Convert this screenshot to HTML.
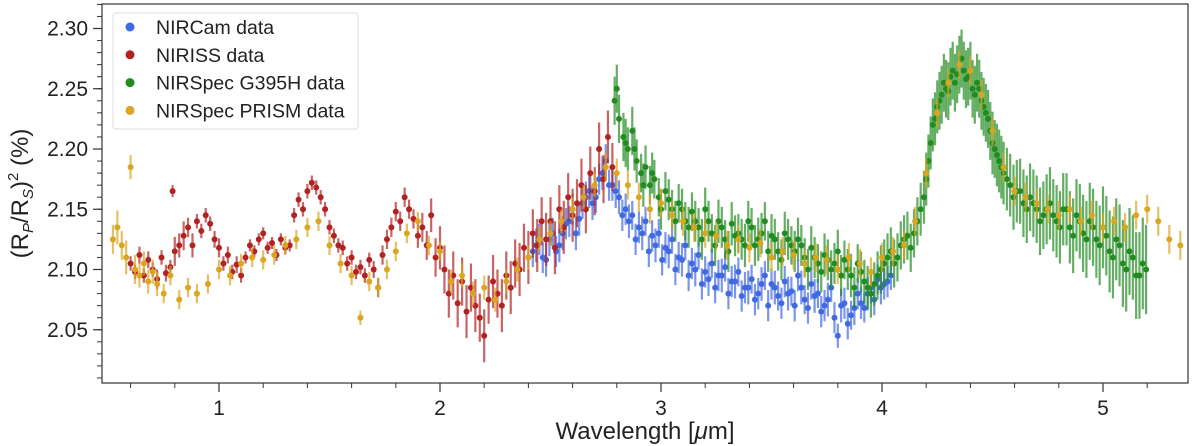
<!DOCTYPE html>
<html><head><meta charset="utf-8"><style>
body{margin:0;background:#fff}
svg{display:block;font-family:"Liberation Sans",sans-serif}
</style></head><body>
<svg id="c" width="1200" height="446"></svg>
<script>
const nircamWl=[2.42,2.45,2.48,2.51,2.54,2.57,2.60,2.63,2.66,2.69,2.72,2.75,2.78,2.81,2.84,2.87,2.90,2.93,2.96,2.99,3.02,3.05,3.08,3.11,3.14,3.17,3.20,3.23,3.26,3.29,3.32,3.35,3.38,3.41,3.44,3.47,3.50,3.53,3.56,3.59,3.62,3.65,3.68,3.71,3.74,3.77,3.80,3.83,3.86,3.89,3.92,3.95,3.98,4.01,4.04,
2.435,2.465,2.495,2.525,2.555,2.585,2.615,2.645,2.675,2.705,2.735,2.765,2.795,2.825,2.855,2.885,2.915,2.945,2.975,3.005,3.035,3.065,3.095,3.125,3.155,3.185,3.215,3.245,3.275,3.305,3.335,3.365,3.395,3.425,3.455,3.485,3.515,3.545,3.575,3.605,3.635,3.665,3.695,3.725,3.755,3.785,3.815,3.845,3.875,3.905,3.935,3.965,3.995,4.025];
const nircamVal=[2.115,2.125,2.108,2.130,2.120,2.138,2.150,2.142,2.160,2.155,2.175,2.190,2.170,2.160,2.150,2.145,2.135,2.140,2.128,2.130,2.118,2.125,2.110,2.120,2.105,2.112,2.098,2.105,2.095,2.102,2.090,2.098,2.085,2.092,2.080,2.095,2.088,2.078,2.090,2.082,2.095,2.075,2.088,2.080,2.070,2.085,2.045,2.072,2.062,2.080,2.068,2.085,2.092,2.088,2.095,
2.120,2.110,2.125,2.115,2.130,2.140,2.130,2.155,2.165,2.160,2.180,2.170,2.165,2.145,2.140,2.125,2.130,2.115,2.120,2.108,2.115,2.100,2.108,2.095,2.100,2.088,2.092,2.085,2.095,2.080,2.090,2.078,2.085,2.075,2.088,2.070,2.085,2.072,2.080,2.070,2.085,2.068,2.078,2.065,2.075,2.060,2.070,2.055,2.068,2.072,2.080,2.075,2.085,2.090];
const nircamErr=[0.013,0.013,0.014,0.013,0.014,0.013,0.013,0.014,0.013,0.014,0.013,0.014,0.013,0.014,0.013,0.012,0.013,0.012,0.013,0.012,0.013,0.012,0.013,0.012,0.013,0.012,0.013,0.012,0.013,0.012,0.013,0.012,0.013,0.012,0.013,0.012,0.013,0.012,0.013,0.012,0.013,0.012,0.013,0.012,0.013,0.012,0.01,0.013,0.012,0.013,0.012,0.013,0.012,0.013,0.012,
0.014,0.013,0.014,0.013,0.014,0.013,0.014,0.013,0.014,0.013,0.014,0.013,0.014,0.013,0.014,0.013,0.014,0.013,0.014,0.013,0.014,0.013,0.014,0.013,0.014,0.013,0.014,0.013,0.014,0.013,0.014,0.013,0.014,0.013,0.014,0.013,0.014,0.013,0.014,0.013,0.014,0.013,0.014,0.013,0.014,0.013,0.014,0.013,0.014,0.013,0.014,0.013,0.014,0.013];

const nirissWl=[0.60,0.62,0.64,0.66,0.68,0.70,0.72,0.74,0.76,0.78,0.79,0.80,0.82,0.84,0.86,0.88,0.90,0.92,0.94,0.96,0.98,1.00,1.02,1.04,1.06,1.08,1.10,1.12,1.14,1.16,1.18,1.20,1.22,1.24,1.26,1.28,1.30,1.32,1.34,1.36,1.38,1.40,1.42,1.44,1.46,1.48,1.50,1.52,1.54,1.56,1.58,1.60,1.62,1.64,1.66,1.68,1.70,1.72,1.74,1.76,1.78,1.80,1.82,1.84,1.86,1.88,1.90,1.92,1.94,1.96,1.98,2.00,2.02,2.04,2.06,2.08,2.10,2.12,2.14,2.16,2.18,2.20,2.22,2.24,2.26,2.28,2.30,2.32,2.34,2.36,2.38,2.40,2.42,2.44,2.46,2.48,2.50,2.52,2.54,2.56,2.58,2.60,2.62,2.64,2.66,2.68,2.70,2.72,2.74,2.76,2.78];
const nirissVal=[2.105,2.098,2.112,2.095,2.108,2.100,2.092,2.110,2.097,2.102,2.165,2.115,2.120,2.128,2.135,2.120,2.140,2.132,2.145,2.138,2.125,2.118,2.105,2.112,2.098,2.104,2.095,2.110,2.120,2.115,2.125,2.130,2.118,2.122,2.112,2.125,2.118,2.120,2.145,2.158,2.150,2.165,2.172,2.168,2.160,2.150,2.135,2.128,2.120,2.118,2.105,2.110,2.098,2.102,2.095,2.108,2.100,2.085,2.112,2.125,2.135,2.148,2.140,2.160,2.150,2.142,2.128,2.135,2.120,2.145,2.110,2.118,2.100,2.080,2.095,2.072,2.090,2.065,2.085,2.070,2.060,2.045,2.075,2.090,2.080,2.070,2.095,2.085,2.105,2.100,2.118,2.110,2.130,2.120,2.140,2.125,2.140,2.118,2.150,2.135,2.160,2.145,2.155,2.170,2.150,2.180,2.165,2.200,2.175,2.210,2.185];
const nirissErr=[0.006,0.006,0.007,0.006,0.007,0.006,0.008,0.006,0.007,0.006,0.005,0.012,0.01,0.012,0.008,0.01,0.006,0.006,0.006,0.006,0.007,0.008,0.006,0.007,0.006,0.007,0.006,0.005,0.005,0.005,0.005,0.005,0.005,0.005,0.005,0.005,0.005,0.005,0.006,0.006,0.006,0.006,0.006,0.006,0.006,0.006,0.006,0.006,0.006,0.006,0.006,0.006,0.006,0.006,0.006,0.006,0.007,0.008,0.008,0.008,0.008,0.008,0.008,0.008,0.008,0.008,0.01,0.012,0.012,0.014,0.016,0.018,0.02,0.02,0.02,0.02,0.02,0.022,0.02,0.022,0.02,0.022,0.02,0.022,0.02,0.022,0.02,0.022,0.02,0.022,0.02,0.022,0.02,0.022,0.02,0.022,0.02,0.022,0.02,0.022,0.02,0.022,0.02,0.022,0.02,0.022,0.02,0.022,0.02,0.022,0.02];

const g395Wl=[2.79,2.81,2.83,2.85,2.87,2.89,2.91,2.93,2.95,2.97,2.99,3.02,3.05,3.08,3.11,3.14,3.17,3.20,3.23,3.26,3.29,3.32,3.35,3.38,3.41,3.44,3.47,3.50,3.53,3.56,3.59,3.62,3.65,3.68,3.71,3.74,3.77,3.80,3.83,3.86,3.89,3.92,3.95,3.98,4.01,4.04,4.07,4.10,4.13,4.16,4.19,4.21,4.23,4.25,4.27,4.29,4.31,4.33,4.35,4.37,4.39,4.41,4.43,4.45,4.47,4.49,4.51,4.53,4.55,4.58,4.61,4.64,4.67,4.70,4.73,4.76,4.79,4.82,4.85,4.88,4.91,4.94,4.97,5.00,5.03,5.06,5.09,5.12,5.15,5.18,
2.80,2.84,2.88,2.92,2.96,3.00,3.035,3.065,3.095,3.125,3.155,3.185,3.215,3.245,3.275,3.305,3.335,3.365,3.395,3.425,3.455,3.485,3.515,3.545,3.575,3.605,3.635,3.665,3.695,3.725,3.755,3.785,3.815,3.845,3.875,3.905,3.935,3.965,3.995,4.025,4.055,4.085,4.115,4.145,4.175,4.20,4.22,4.24,4.26,4.28,4.30,4.32,4.34,4.36,4.38,4.40,4.42,4.44,4.46,4.48,4.50,4.52,4.54,4.565,4.595,4.625,4.655,4.685,4.715,4.745,4.775,4.805,4.835,4.865,4.895,4.925,4.955,4.985,5.015,5.045,5.075,5.105,5.135,5.165,5.195];
const g395Val=[2.240,2.225,2.210,2.200,2.215,2.190,2.180,2.185,2.170,2.175,2.160,2.165,2.150,2.155,2.140,2.148,2.135,2.150,2.130,2.140,2.125,2.138,2.130,2.120,2.135,2.125,2.140,2.128,2.115,2.130,2.120,2.125,2.110,2.118,2.105,2.112,2.100,2.115,2.108,2.095,2.105,2.090,2.080,2.095,2.105,2.115,2.110,2.125,2.118,2.140,2.160,2.190,2.220,2.235,2.245,2.250,2.260,2.255,2.270,2.265,2.260,2.250,2.255,2.240,2.230,2.215,2.200,2.190,2.180,2.170,2.165,2.155,2.160,2.150,2.145,2.155,2.140,2.150,2.135,2.145,2.130,2.140,2.125,2.135,2.115,2.125,2.105,2.115,2.095,2.105,
2.250,2.205,2.200,2.170,2.180,2.150,2.158,2.140,2.150,2.135,2.140,2.125,2.140,2.120,2.135,2.115,2.128,2.125,2.140,2.120,2.130,2.115,2.125,2.108,2.125,2.115,2.120,2.100,2.110,2.098,2.108,2.105,2.095,2.100,2.085,2.098,2.085,2.088,2.100,2.110,2.105,2.120,2.128,2.130,2.150,2.175,2.205,2.225,2.240,2.255,2.248,2.265,2.262,2.275,2.258,2.265,2.245,2.250,2.235,2.225,2.205,2.195,2.185,2.175,2.160,2.165,2.150,2.155,2.140,2.150,2.145,2.135,2.150,2.128,2.140,2.125,2.135,2.120,2.128,2.110,2.120,2.100,2.110,2.095,2.100];
const g395Err=[0.02,0.02,0.02,0.018,0.02,0.018,0.016,0.018,0.016,0.016,0.016,0.016,0.016,0.016,0.016,0.016,0.016,0.018,0.016,0.018,0.016,0.018,0.016,0.018,0.016,0.018,0.016,0.018,0.016,0.018,0.016,0.018,0.016,0.018,0.016,0.018,0.016,0.018,0.016,0.018,0.016,0.018,0.02,0.02,0.02,0.02,0.02,0.02,0.02,0.02,0.022,0.022,0.022,0.022,0.024,0.024,0.024,0.024,0.024,0.024,0.024,0.024,0.024,0.024,0.024,0.024,0.024,0.026,0.026,0.026,0.026,0.028,0.028,0.028,0.028,0.03,0.03,0.03,0.03,0.03,0.032,0.032,0.032,0.034,0.034,0.034,0.036,0.036,0.036,0.038,
0.02,0.02,0.018,0.018,0.017,0.017,0.017,0.017,0.017,0.017,0.017,0.017,0.017,0.017,0.017,0.017,0.017,0.017,0.017,0.017,0.017,0.017,0.017,0.017,0.017,0.017,0.017,0.017,0.017,0.017,0.017,0.017,0.017,0.017,0.017,0.017,0.018,0.018,0.02,0.02,0.02,0.02,0.02,0.02,0.022,0.022,0.022,0.022,0.024,0.024,0.024,0.024,0.024,0.024,0.024,0.024,0.024,0.024,0.024,0.024,0.026,0.026,0.026,0.026,0.027,0.027,0.028,0.028,0.028,0.029,0.03,0.03,0.03,0.031,0.031,0.032,0.032,0.033,0.033,0.034,0.034,0.035,0.035,0.036,0.037];

const prismWl=[0.52,0.54,0.56,0.58,0.60,0.62,0.64,0.66,0.68,0.70,0.72,0.75,0.78,0.82,0.86,0.90,0.95,1.00,1.05,1.10,1.15,1.20,1.25,1.30,1.35,1.40,1.45,1.50,1.55,1.60,1.64,1.68,1.72,1.76,1.80,1.85,1.90,1.95,2.00,2.05,2.10,2.15,2.20,2.25,2.30,2.35,2.40,2.45,2.50,2.55,2.60,2.65,2.70,2.75,2.80,2.85,2.90,2.95,3.00,3.05,3.10,3.15,3.20,3.25,3.30,3.35,3.40,3.45,3.50,3.55,3.60,3.65,3.70,3.75,3.80,3.85,3.90,3.95,4.00,4.05,4.10,4.15,4.20,4.25,4.30,4.35,4.40,4.45,4.50,4.55,4.60,4.65,4.70,4.75,4.80,4.85,4.90,4.95,5.00,5.05,5.10,5.15,5.20,5.25,5.30,5.35];
const prismVal=[2.125,2.135,2.120,2.110,2.185,2.100,2.095,2.105,2.090,2.098,2.088,2.080,2.095,2.075,2.085,2.080,2.088,2.100,2.095,2.105,2.110,2.108,2.112,2.120,2.125,2.135,2.140,2.120,2.105,2.095,2.060,2.090,2.085,2.100,2.115,2.130,2.140,2.120,2.115,2.090,2.095,2.080,2.085,2.075,2.090,2.100,2.110,2.125,2.130,2.140,2.150,2.160,2.170,2.185,2.180,2.170,2.160,2.150,2.155,2.145,2.140,2.135,2.130,2.128,2.120,2.125,2.118,2.122,2.110,2.115,2.112,2.105,2.110,2.108,2.100,2.110,2.105,2.098,2.110,2.115,2.120,2.140,2.180,2.230,2.255,2.270,2.265,2.245,2.215,2.185,2.165,2.160,2.155,2.150,2.145,2.150,2.140,2.145,2.135,2.140,2.135,2.145,2.150,2.140,2.125,2.120];
const prismErr=[0.012,0.014,0.012,0.014,0.01,0.012,0.01,0.01,0.01,0.01,0.01,0.008,0.008,0.008,0.008,0.008,0.008,0.008,0.008,0.008,0.008,0.008,0.008,0.008,0.008,0.008,0.008,0.008,0.008,0.008,0.006,0.008,0.008,0.008,0.008,0.008,0.008,0.008,0.008,0.01,0.01,0.01,0.01,0.01,0.01,0.01,0.01,0.01,0.01,0.01,0.01,0.01,0.01,0.012,0.012,0.012,0.012,0.012,0.012,0.012,0.012,0.012,0.012,0.012,0.012,0.012,0.012,0.012,0.012,0.012,0.012,0.012,0.012,0.012,0.012,0.012,0.012,0.012,0.012,0.012,0.012,0.012,0.012,0.012,0.012,0.012,0.012,0.012,0.012,0.012,0.012,0.012,0.012,0.012,0.012,0.012,0.012,0.012,0.012,0.012,0.012,0.012,0.012,0.012,0.012,0.012];

const yTicks=["2.05","2.10","2.15","2.20","2.25","2.30"];
const xTicks=["1","2","3","4","5"];

const L=102,R=1188,T=4,B=383;
const xs=w=>219+(w-1)*221;
const ys=v=>269.5-(v-2.10)*1205;
const NS="http://www.w3.org/2000/svg";
const svg=document.getElementById('c');
function mk(t,a,p){const e=document.createElementNS(NS,t);for(const k in a)e.setAttribute(k,a[k]);(p||svg).appendChild(e);return e;}

const frame=mk('rect',{x:L,y:T,width:R-L,height:B-T,fill:'none',stroke:'#333','stroke-width':1.2});



for(let v=2.01;v<=2.3201;v+=0.01){const y=ys(v);mk('line',{x1:L-5,x2:L,y1:y,y2:y,stroke:'#333','stroke-width':1});}
yTicks.forEach(t=>{const y=ys(+t);mk('line',{x1:L-9,x2:L,y1:y,y2:y,stroke:'#333','stroke-width':1.2});
const tx=mk('text',{x:L-14,y:y+7,'text-anchor':'end','font-size':21,fill:'#222'});tx.textContent=t;

});
for(let w=0.6;w<=5.31;w+=0.2){const x=xs(w);mk('line',{x1:x,x2:x,y1:B,y2:B+5,stroke:'#333','stroke-width':1});}
xTicks.forEach(t=>{const x=xs(+t);mk('line',{x1:x,x2:x,y1:B,y2:B+9,stroke:'#333','stroke-width':1.2});
const tx=mk('text',{x:x,y:B+32,'text-anchor':'middle','font-size':21,fill:'#222'});tx.textContent=t;

});

const xl=mk('text',{x:(L+R)/2,y:439,'text-anchor':'middle','font-size':24,fill:'#222'});
xl.innerHTML='Wavelength [<tspan font-style="italic">μ</tspan>m]';


const yl=mk('text',{transform:'translate(28,'+(T+B)/2+') rotate(-90)','text-anchor':'middle','font-size':24,fill:'#222'});
yl.innerHTML='(R<tspan font-size="15" dy="5" font-style="italic">P</tspan><tspan dy="-5">/R</tspan><tspan font-size="15" dy="5" font-style="italic">S</tspan><tspan dy="-5">)</tspan><tspan font-size="15" dy="-10">2</tspan><tspan dy="10"> (%)</tspan>';



const series=[
 ['nircam',nircamWl,nircamVal,nircamErr,'#4169e1'],
 ['niriss',nirissWl,nirissVal,nirissErr,'#b22222'],
 ['g395h',g395Wl,g395Val,g395Err,'#228b22'],
 ['prism',prismWl,prismVal,prismErr,'#daa520']];
series.forEach(s=>{
 const g=mk('g',{});
 
 
 s[1].forEach((w,i)=>{const x=xs(w),y=ys(s[2][i]),e=s[3][i]*1205;
  mk('line',{x1:x,x2:x,y1:y-e,y2:y+e,stroke:s[4],'stroke-width':2.2,'stroke-opacity':0.7},g);
  const c=mk('circle',{cx:x,cy:y,r:3,fill:s[4]},g);
  
  });
});

const lg=mk('g',{});


mk('rect',{x:113,y:13,width:245,height:116,rx:3,fill:'#fff','fill-opacity':0.85,stroke:'#ddd'},lg);
const names=['NIRCam data','NIRISS data','NIRSpec G395H data','NIRSpec PRISM data'];
names.forEach((n,i)=>{const y=27+i*27.8;
 mk('circle',{cx:130,cy:y,r:4.5,fill:series[i][4]},lg);
 const t=mk('text',{x:156,y:y+7,'font-size':19.5,fill:'#222'},lg);t.textContent=n;
 
 });
</script>
</body></html>
